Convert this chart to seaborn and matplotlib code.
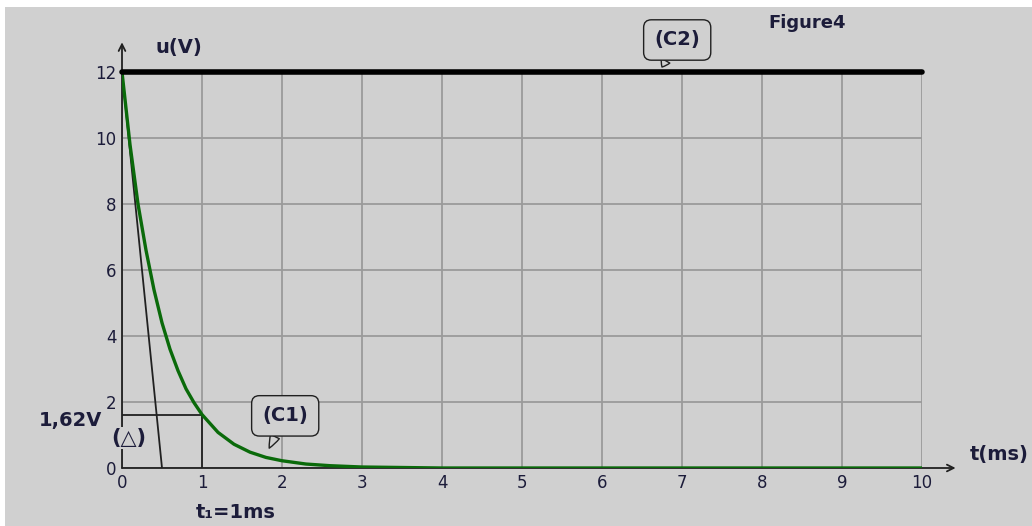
import matplotlib
matplotlib.use("Agg")
import matplotlib.pyplot as plt
import seaborn as sns
import pandas as pd

# values
t_c1 = [0, 0.1, 0.2, 0.3, 0.4, 0.5, 0.6, 0.7, 0.8, 0.9, 1.0, 1.2, 1.4, 1.6, 1.8, 2.0,
        2.3, 2.6, 3.0, 4.0, 10.0]
u_c1 = [12, 9.8, 8.0, 6.6, 5.4, 4.4, 3.6, 2.95, 2.4, 1.98, 1.62, 1.08, 0.72, 0.48, 0.32,
        0.22, 0.12, 0.07, 0.03, 0.0, 0.0]
t_c2 = [0, 10]
u_c2 = [12, 12]
t_tangent = [0, 0.5]
u_tangent = [12, 0]
t1 = 1.0
u_t1 = 1.62
x_ticks = list(range(0, 11))
y_ticks = [0, 2, 4, 6, 8, 10, 12]

bg = "#d0d0d0"
txt = "#1c1c3a"

sns.set_theme(style="white", rc={"axes.facecolor": bg, "figure.facecolor": "white"})
plt.rcParams["font.family"] = ["DejaVu Sans"]

fig = plt.figure(figsize=(10.32, 5.26), dpi=100)
fig.patches.append(plt.Rectangle((5 / 1032, 0), 1, 1 - 7 / 526, transform=fig.transFigure,
                                 facecolor=bg, edgecolor="none", zorder=-10))
ax = fig.add_axes([122 / 1032, 1 - 468 / 526, 800 / 1032, 396 / 526])
ax.set_facecolor(bg)

df1 = pd.DataFrame({"t": t_c1, "u": u_c1})
df2 = pd.DataFrame({"t": t_c2, "u": u_c2})
dft = pd.DataFrame({"t": t_tangent, "u": u_tangent})

sns.lineplot(data=dft, x="t", y="u", ax=ax, color="#202020", lw=1.3, zorder=3)
sns.lineplot(data=df1, x="t", y="u", ax=ax, color="#0a6a0a", lw=2.4, zorder=4)
sns.lineplot(data=df2, x="t", y="u", ax=ax, color="black", lw=4, zorder=5, clip_on=False)

# construction lines for t1
ax.plot([0, t1], [u_t1, u_t1], color="#202020", lw=1.3, zorder=3)
ax.plot([t1, t1], [0, u_t1], color="#202020", lw=1.3, zorder=3)

ax.set_xlim(0, 10)
ax.set_ylim(0, 12)
ax.set_xticks(x_ticks)
ax.set_yticks(y_ticks)
ax.set_xticklabels([str(v) for v in x_ticks], fontsize=12, color=txt)
ax.set_yticklabels([str(v) for v in y_ticks], fontsize=12, color=txt)
ax.tick_params(length=0, pad=4)
ax.grid(True, color="#9a9a9a", lw=1.3)
ax.set_axisbelow(True)
for s in ax.spines.values():
    s.set_visible(False)
ax.set_xlabel("")
ax.set_ylabel("")

# axis arrows
ax.annotate("", xy=(10.42, 0), xytext=(0, 0), annotation_clip=False,
            arrowprops=dict(arrowstyle="->", color="#202020", lw=1.3, shrinkA=0, shrinkB=0))
ax.annotate("", xy=(0, 12.9), xytext=(0, 0), annotation_clip=False,
            arrowprops=dict(arrowstyle="->", color="#202020", lw=1.3, shrinkA=0, shrinkB=0))

# labels
ax.text(0.42, 12.75, "u(V)", fontsize=14, fontweight="bold", color=txt, va="center")
ax.text(10.6, 0.4, "t(ms)", fontsize=14, fontweight="bold", color=txt, va="center")
ax.text(8.56, 13.5, "Figure4", fontsize=13, fontweight="bold", color=txt, va="center",
        ha="center", clip_on=False)
ax.text(-0.25, 1.45, "1,62V", fontsize=14, fontweight="bold", color=txt, va="center",
        ha="right")
ax.text(0.09, 0.9, "(△)", fontsize=15, fontweight="bold", color=txt, va="center",
        ha="center", zorder=10,
        bbox=dict(boxstyle="square,pad=0.05", facecolor=bg, edgecolor="none"))
ax.text(1.42, -1.35, "t₁=1ms", fontsize=14, fontweight="bold", color=txt, va="center",
        ha="center", clip_on=False)

# callouts
box = dict(boxstyle="round,pad=0.55,rounding_size=0.4", facecolor=bg,
           edgecolor="#202020", lw=1)
tail = dict(arrowstyle="wedge,tail_width=0.5,shrink_factor=0.6", facecolor=bg,
            edgecolor="#202020", lw=1, shrinkA=0, shrinkB=0)
ax.annotate("(C2)", xy=(6.75, 12.15), xytext=(6.94, 12.97), fontsize=14, fontweight="bold",
            color=txt, ha="center", va="center", annotation_clip=False, bbox=box,
            arrowprops=tail, zorder=6)
ax.annotate("(C1)", xy=(1.84, 0.6), xytext=(2.04, 1.58), fontsize=14, fontweight="bold",
            color=txt, ha="center", va="center", bbox=box, arrowprops=tail, zorder=6)

fig.savefig("out.png", dpi=100)
